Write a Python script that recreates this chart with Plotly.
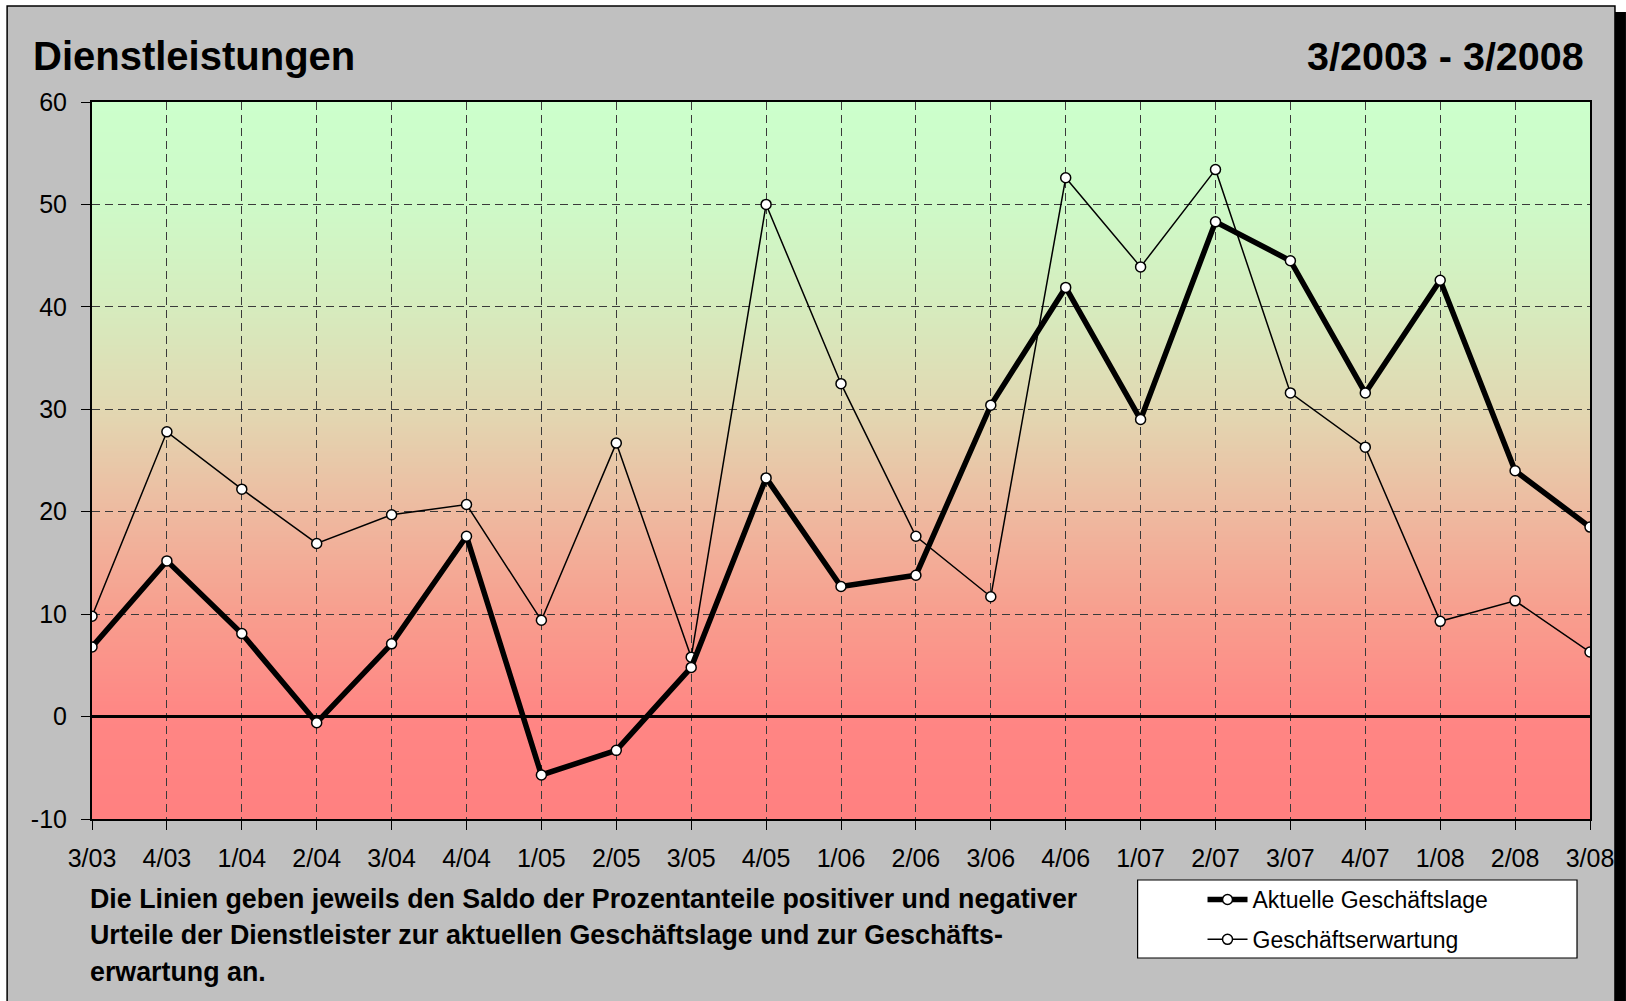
import zlib, struct, base64
import plotly.graph_objects as go

# ---------------- data ----------------
quarters = ["3/03", "4/03", "1/04", "2/04", "3/04", "4/04", "1/05", "2/05", "3/05", "4/05",
            "1/06", "2/06", "3/06", "4/06", "1/07", "2/07", "3/07", "4/07", "1/08", "2/08", "3/08"]
aktuelle_lage = [6.8, 15.2, 8.1, -0.6, 7.1, 17.6, -5.7, -3.3, 4.8, 23.3,
                 12.7, 13.8, 30.4, 41.9, 29.0, 48.3, 44.5, 31.6, 42.6, 24.0, 18.5]
erwartung = [9.8, 27.8, 22.2, 16.9, 19.7, 20.7, 9.4, 26.7, 5.8, 50.0,
             32.5, 17.6, 11.7, 52.6, 43.9, 53.4, 31.6, 26.3, 9.3, 11.3, 6.3]
y_ticks = [-10, 0, 10, 20, 30, 40, 50, 60]

title_left = "Dienstleistungen"
title_right = "3/2003 - 3/2008"
note_lines = [
    "Die Linien geben jeweils den Saldo der Prozentanteile positiver und negativer",
    "Urteile der Dienstleister zur aktuellen Geschäftslage und zur Geschäfts-",
    "erwartung an.",
]

# ---------------- geometry helpers ----------------
W, H = 1626, 1001
ML, MR, MT, MB = 92, 34, 102, 182
PW, PH = W - ML - MR, H - MT - MB


def px(x):
    return (x - ML) / PW


def py(y):
    return (H - MB - y) / PH


FONT = "Liberation Sans, Arial, Helvetica, sans-serif"

# ---------------- background gradient image ----------------
stops = [(60, (204, 255, 204)), (50, (206, 250, 200)), (40, (214, 236, 190)),
         (30, (226, 216, 178)), (20, (238, 186, 160)), (10, (248, 158, 142)),
         (0, (255, 134, 132)), (-10, (255, 128, 128))]


def col_at(v):
    for (v0, c0), (v1, c1) in zip(stops[:-1], stops[1:]):
        if v1 <= v <= v0:
            t = (v0 - v) / (v0 - v1)
            return tuple(int(round(a + (b - a) * t)) for a, b in zip(c0, c1))
    return stops[-1][1]


nrows = 350
rows = [col_at(60 - 70 * (i + 0.5) / nrows) for i in range(nrows)]
width_px = 4
raw = b"".join(b"\x00" + bytes(c) * width_px for c in rows)


def chunk(t, d):
    return struct.pack(">I", len(d)) + t + d + struct.pack(">I", zlib.crc32(t + d) & 0xFFFFFFFF)


png = (b"\x89PNG\r\n\x1a\n"
       + chunk(b"IHDR", struct.pack(">IIBBBBB", width_px, nrows, 8, 2, 0, 0, 0))
       + chunk(b"IDAT", zlib.compress(raw))
       + chunk(b"IEND", b""))
img_src = "data:image/png;base64," + base64.b64encode(png).decode()

# ---------------- figure ----------------
fig = go.Figure()

fig.add_trace(go.Scatter(
    x=quarters, y=erwartung, name="Geschäftserwartung", mode="lines+markers",
    line=dict(color="black", width=1.5),
    marker=dict(size=10, color="white", line=dict(color="black", width=1.5)),
    legendgroup="b", legendrank=2,
))
fig.add_trace(go.Scatter(
    x=quarters, y=aktuelle_lage, name="Aktuelle Geschäftslage", mode="lines+markers",
    line=dict(color="black", width=5.5),
    marker=dict(size=10, color="white", line=dict(color="black", width=1.5)),
    legendgroup="a", legendrank=1,
))

fig.add_layout_image(dict(
    source=img_src, xref="x", yref="y", x=0, y=60, sizex=len(quarters) - 1, sizey=70,
    xanchor="left", yanchor="top", sizing="stretch", layer="below",
))

shapes = [
    # grey frame with shadow
    dict(type="rect", xref="paper", yref="paper", x0=px(1617), x1=px(1628), y0=py(1012), y1=py(12),
         fillcolor="black", line=dict(width=0), layer="below"),
    dict(type="rect", xref="paper", yref="paper", x0=px(7), x1=px(1617), y0=py(1012), y1=py(6),
         fillcolor="#C0C0C0", line=dict(color="black", width=1.5), layer="below"),
    # legend box
    dict(type="rect", xref="paper", yref="paper", x0=px(1139), x1=px(1579), y0=py(958), y1=py(880),
         fillcolor="white", line=dict(color="black", width=1.2), layer="below"),
]

annotations = [
    dict(text=f"<b>{title_left}</b>", xref="paper", yref="paper", x=px(31), y=py(56),
         xanchor="left", yanchor="middle", showarrow=False, font=dict(size=40, color="black", family=FONT)),
    dict(text=f"<b>{title_right}</b>", xref="paper", yref="paper", x=px(1588), y=py(56),
         xanchor="right", yanchor="middle", showarrow=False, font=dict(size=39.5, color="black", family=FONT)),
]
for line, yc in zip(note_lines, [899, 935, 972]):
    annotations.append(dict(text=f"<b>{line}</b>", xref="paper", yref="paper", x=px(88), y=py(yc),
                            xanchor="left", yanchor="middle", showarrow=False,
                            font=dict(size=26.8, color="black", family=FONT)))

fig.update_layout(
    width=W, height=H,
    margin=dict(l=ML, r=MR, t=MT, b=MB, pad=0),
    paper_bgcolor="white", plot_bgcolor="#E0D8B0",
    font=dict(family=FONT, color="black"),
    shapes=shapes, annotations=annotations,
    showlegend=True,
    legend=dict(x=px(1204), y=py(878), xanchor="left", yanchor="top",
                bgcolor="rgba(0,0,0,0)", borderwidth=0, font=dict(size=23, family=FONT, color="black"),
                tracegroupgap=7, traceorder="grouped", itemwidth=40),
)
fig.update_xaxes(
    type="category", range=[0, len(quarters) - 1], tickangle=0,
    showgrid=True, gridcolor="#3a3a3a", gridwidth=1, griddash="8px,5px",
    showline=True, linecolor="black", linewidth=2, mirror=True,
    ticks="outside", ticklen=9, tickwidth=1.2, tickcolor="black",
    tickfont=dict(size=25, family=FONT, color="black"), ticklabelstandoff=7,
)
fig.update_yaxes(
    range=[-10, 60], tickvals=y_ticks, ticktext=[str(v) for v in y_ticks],
    showgrid=True, gridcolor="#3a3a3a", gridwidth=1, griddash="8px,5px",
    zeroline=True, zerolinecolor="black", zerolinewidth=3,
    showline=True, linecolor="black", linewidth=2, mirror=True,
    ticks="outside", ticklen=9, tickwidth=1.2, tickcolor="black",
    tickfont=dict(size=25, family=FONT, color="black"), ticklabelstandoff=9,
)

fig.write_html("out.html", config={"displayModeBar": False},
               post_script="document.body.style.margin='0px';")
